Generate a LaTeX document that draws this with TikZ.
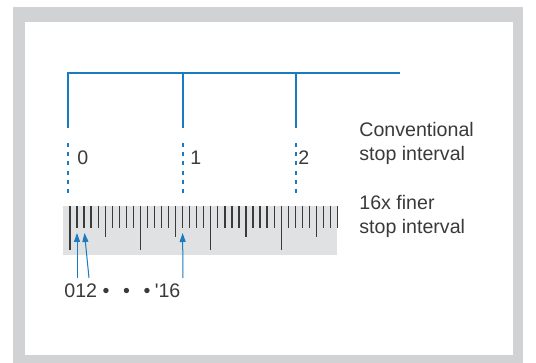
\documentclass[tikz,border=0pt]{standalone}
\usepackage{fontspec}
\setmainfont{Liberation Sans}
\usetikzlibrary{arrows.meta}
\definecolor{stopblue}{HTML}{1A7BC0}
\definecolor{framegray}{HTML}{D1D2D4}
\definecolor{rulergray}{HTML}{E0E1E3}
\definecolor{inkgray}{HTML}{3A3A3A}
\begin{document}
\begin{tikzpicture}[x=0.5pt,y=-0.5pt,
		lbl/.style={inner sep=0pt,text=inkgray,font=\fontsize{9.8}{12}\selectfont},
		stopline/.style={stopblue,line width=1pt},
		stopdots/.style={stopblue,line width=1pt,dash pattern=on 2pt off 2.6pt},
		tickline/.style={inkgray,line width=0.65pt},
		pointer/.style={stopblue,line width=0.5pt,-{Triangle[length=4.5pt,width=3pt]}}]
		% Frame
		\useasboundingbox (0,0) rectangle (536,363);
		\fill[framegray] (13,7) rectangle (523,363);
		\fill[white] (25,22) rectangle (513,355);
		% Conventional stops
		\draw[stopline] (68,128) -- (68,73) -- (400,73);
		\draw[stopline] (183,73) -- (183,128);
		\draw[stopline] (296,73) -- (296,128);
		\draw[stopdots] (68,143) -- (68,198);
		\draw[stopdots] (183,143) -- (183,198);
		\draw[stopdots] (296,143) -- (296,198);
		\node[lbl,anchor=base west] (s0) at (77,165) {0};
		\node[lbl,anchor=base west] (s1) at (190,165) {1};
		\node[lbl,anchor=base west] (s2) at (298,165) {2};
		% Ruler
		\fill[rulergray] (63,206) rectangle (337,255);
		\foreach \i in {0,...,38}{
			\pgfmathsetmacro\tickend{ifthenelse(mod(\i,10)==0,250,ifthenelse(mod(\i,5)==0,237,228))}
			\draw[tickline] (70+7.04*\i,206) -- (70+7.04*\i,\tickend);
		}
		% Right-hand labels
		\node[lbl,anchor=north west,align=left] (conv) at (359,122) {Conventional\\stop interval};
		\node[lbl,anchor=north west,align=left] (fine) at (359,195) {16x finer\\stop interval};
		% Fine stop indices
		\node[lbl,anchor=base west] (idx) at (64,298)
			{012\hspace{2.8pt}•\hspace{6.8pt}•\hspace{6.8pt}•\hspace{2.2pt}\textquotesingle16};
		\coordinate (t1) at (77,233);
		\coordinate (t2) at (84.5,233);
		\coordinate (t16) at (182.6,233);
		\coordinate (b1) at (77,278);
		\coordinate (b2) at (89,278);
		\coordinate (b16) at (183,278);
		\draw[pointer] (b1) -- (t1);
		\draw[pointer] (b2) -- (t2);
		\draw[pointer] (b16) -- (t16);
	\end{tikzpicture}
\end{document}
